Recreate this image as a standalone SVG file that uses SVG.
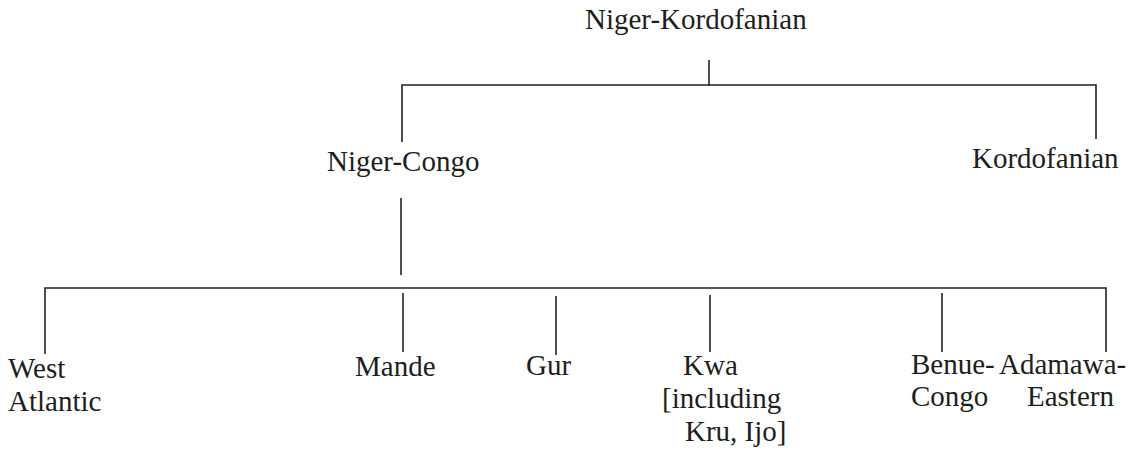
<svg xmlns="http://www.w3.org/2000/svg" width="1128" height="451" viewBox="0 0 1128 451">
<style>
text{font-family:"Liberation Serif","Times New Roman",serif;font-size:29px;fill:#1e1e1e}
.c{fill:none;stroke:#222;stroke-width:1.6}
</style>
<rect width="1128" height="451" fill="#fff"/>
<g id="connectors">
<path class="c" d="M709 60V86"/>
<path class="c" d="M402 142V85H1096V139"/>
<path class="c" d="M401 198V275"/>
<path class="c" d="M45 354V288H1106V352"/>
<path class="c" d="M403 293V352"/>
<path class="c" d="M556 296V355"/>
<path class="c" d="M710 295V352"/>
<path class="c" d="M942 293V352"/>
</g>
<g id="niger-kordofanian"><text x="585" y="29">Niger-Kordofanian</text></g>
<g id="niger-congo"><text x="327" y="171">Niger-Congo</text></g>
<g id="kordofanian"><text x="972" y="168">Kordofanian</text></g>
<g id="west-atlantic"><text x="8" y="378">West</text><text x="8" y="411">Atlantic</text></g>
<g id="mande"><text x="355" y="376">Mande</text></g>
<g id="gur"><text x="526" y="375">Gur</text></g>
<g id="kwa"><text x="683" y="375">Kwa</text><text x="662" y="408">[including</text><text x="685" y="441">Kru, Ijo]</text></g>
<g id="benue-congo"><text x="911" y="374">Benue-</text><text x="911" y="406">Congo</text></g>
<g id="adamawa-eastern"><text x="999" y="374">Adamawa-</text><text x="1027" y="406">Eastern</text></g>
</svg>
